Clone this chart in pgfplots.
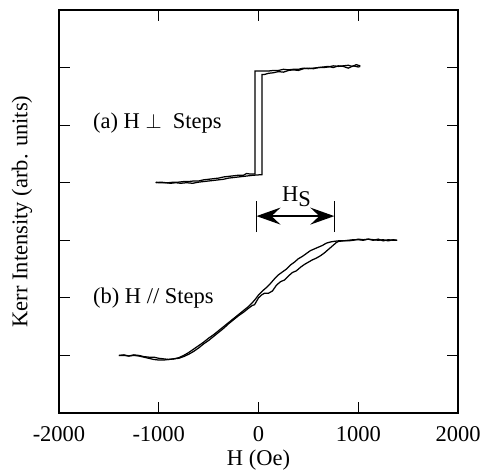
\documentclass[border=0pt]{standalone}
\usepackage{fontspec}
\setmainfont{Liberation Serif}
\usepackage{pgfplots}
\pgfplotsset{compat=1.18}
\usetikzlibrary{arrows.meta}

\begin{document}
\fontsize{22.5}{26}\selectfont
\begin{tikzpicture}
\begin{axis}[
    at={(0,0)}, anchor=south west,
    scale only axis,
    width=399pt, height=403pt,
    xmin=-2000, xmax=2000,
    ymin=0, ymax=7,
    xtick={-2000,-1000,0,1000,2000},
    xticklabels={-2000,-1000,0,1000,2000},
    ytick={1,2,3,4,5,6},
    yticklabels={},
    tick align=inside,
    major tick length=11pt,
    tick style={line width=1pt, black},
    axis line style={line width=1.3pt},
    xticklabel style={anchor=center, yshift=-21pt},
    xlabel={H (Oe)},
    ylabel={Kerr Intensity (arb. units)},
    xlabel style={at={(axis description cs:0.5,-0.117)}, anchor=center},
    ylabel style={at={(axis description cs:-0.0927,0.5)}, anchor=center, rotate=0},
    clip=false,
  ]
  % (a) H perpendicular to steps: decreasing branch
  \addplot[black, line width=1.25pt] coordinates {
    (1020,6.03)(980,6.05)(940,6.02)(900,6.04)(850,6.03)(800,6.02)(750,6.03)
    (700,6.01)(650,6.00)(600,6.00)(550,5.99)(500,5.98)(450,5.99)(400,5.97)
    (350,5.97)(300,5.96)(250,5.97)(200,5.95)(150,5.95)(100,5.94)(50,5.94)
    (0,5.94)(-35,5.94)(-35,4.15)(-80,4.15)(-120,4.16)(-150,4.13)(-200,4.13)
    (-250,4.12)(-300,4.11)(-350,4.10)(-400,4.08)(-450,4.07)(-500,4.06)
    (-550,4.05)(-600,4.03)(-650,4.03)(-700,4.02)(-750,4.02)(-800,4.01)
    (-850,4.01)(-900,4.00)(-950,4.00)(-1000,4.00)(-1030,4.01)
  };
  % (a) increasing branch
  \addplot[black, line width=1.25pt] coordinates {
    (-1030,4.00)(-980,4.01)(-930,4.00)(-880,3.99)(-830,4.00)(-780,3.99)
    (-720,4.00)(-660,3.99)(-600,4.01)(-550,4.02)(-500,4.03)(-450,4.04)
    (-400,4.05)(-350,4.06)(-300,4.08)(-250,4.09)(-200,4.10)(-150,4.11)
    (-100,4.12)(-50,4.13)(35,4.14)(35,5.88)(60,5.88)(100,5.90)(150,5.91)
    (200,5.93)(250,5.92)(300,5.95)(350,5.96)(400,5.95)(450,5.98)(500,5.99)
    (550,5.98)(600,6.00)(650,6.01)(700,6.02)(750,6.00)(800,6.03)(850,6.02)
    (900,5.99)(950,6.03)(1000,6.01)(1020,6.02)
  };
  % (b) H parallel to steps: decreasing branch
  \addplot[black, line width=1.25pt] coordinates {
    (1390,3.00)(1350,3.00)(1300,3.01)(1250,2.99)(1200,3.02)(1150,3.00)
    (1100,3.02)(1050,3.01)(1000,3.02)(950,3.00)(900,2.99)(850,2.99)(800,2.99)
    (750,2.98)(720,2.97)(680,2.95)(640,2.91)(600,2.88)(560,2.85)(520,2.82)
    (480,2.77)(440,2.72)(400,2.68)(360,2.62)(320,2.57)(280,2.50)(240,2.45)
    (200,2.40)(160,2.33)(120,2.25)(80,2.18)(40,2.12)(0,2.05)(-30,1.98)
    (-60,1.92)(-100,1.85)(-150,1.78)(-200,1.71)(-250,1.64)(-300,1.57)
    (-350,1.50)(-400,1.43)(-450,1.36)(-500,1.30)(-550,1.23)(-600,1.17)
    (-650,1.11)(-700,1.05)(-750,1.00)(-800,0.96)(-850,0.94)(-900,0.93)
    (-950,0.92)(-1000,0.92)(-1050,0.93)(-1100,0.95)(-1150,0.97)(-1200,0.99)
    (-1250,1.00)(-1300,0.99)(-1350,1.00)(-1400,1.00)
  };
  % (b) increasing branch
  \addplot[black, line width=1.25pt] coordinates {
    (-1400,1.00)(-1350,1.01)(-1300,0.99)(-1250,1.01)(-1200,1.00)(-1150,0.98)
    (-1100,0.97)(-1050,0.97)(-1000,0.95)(-950,0.94)(-900,0.93)(-850,0.94)
    (-800,0.95)(-750,0.98)(-700,1.02)(-650,1.07)(-600,1.13)(-550,1.20)
    (-500,1.26)(-450,1.33)(-400,1.40)(-350,1.47)(-300,1.55)(-250,1.62)
    (-200,1.69)(-150,1.75)(-100,1.82)(-60,1.87)(-40,1.88)(0,2.00)(30,2.05)
    (60,2.08)(100,2.08)(140,2.12)(180,2.22)(220,2.28)(260,2.31)(300,2.38)
    (340,2.44)(380,2.47)(420,2.53)(460,2.58)(500,2.62)(540,2.66)(580,2.69)
    (620,2.73)(660,2.78)(700,2.84)(740,2.90)(780,2.96)(800,2.98)(850,2.99)
    (900,3.00)(950,3.01)(1000,3.01)(1050,3.00)(1100,3.02)(1150,3.01)
    (1200,3.00)(1250,3.01)(1300,2.99)(1350,3.01)(1390,3.00)
  };
  % annotations
  \node[anchor=west, inner sep=0pt] at (axis cs:-1660,5.03) {(a) H $\perp$\ \ Steps};
  \node[anchor=west, inner sep=0pt] at (axis cs:-1660,2.00) {(b) H // Steps};
  \draw[line width=1.4pt] (axis cs:-20,3.14) -- (axis cs:-20,3.68);
  \draw[line width=1.4pt] (axis cs:760,3.14) -- (axis cs:760,3.68);
  \draw[line width=1.4pt, {Stealth[length=24pt,width=17pt,inset=9pt]}-{Stealth[length=24pt,width=17pt,inset=9pt]}]
    (axis cs:-20,3.42) -- (axis cs:760,3.42);
  \node[inner sep=0pt] at (axis cs:380,3.76) {H\raisebox{-0.5ex}{S}};
\end{axis}
\pgfresetboundingbox
\path (-59pt,-57pt) rectangle (425pt,413pt);
\end{tikzpicture}
\end{document}
